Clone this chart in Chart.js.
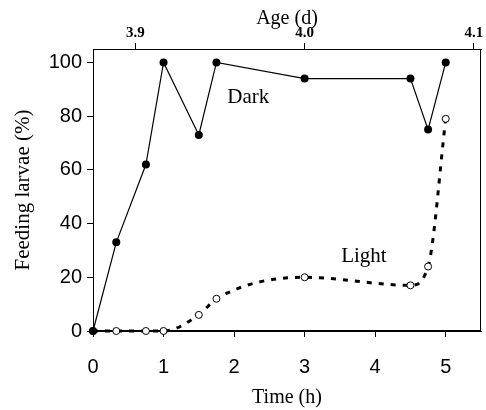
<!DOCTYPE html>
<html>
<head>
<meta charset="utf-8">
<script src="https://cdn.jsdelivr.net/npm/chart.js@4/dist/chart.umd.min.js"></script>
<style>
html,body{margin:0;padding:0;background:#fff}
</style>
</head>
<body>
<canvas id="c" width="486" height="410"></canvas>
<script>
// time after lights change (h) and % of larvae feeding
var timeH    = [0, 0.33, 0.75, 1, 1.5, 1.75, 3, 4.5, 4.75, 5];
var darkPct  = [0, 33, 62, 100, 73, 100, 94, 94, 75, 100];
var lightPct = [0, 0, 0, 0, 6, 12, 20, 17, 24, 79];

var xTicks   = [0, 1, 2, 3, 4, 5];
var yTicks   = [0, 20, 40, 60, 80, 100];
var ageTicks = [3.9, 4.0, 4.1];

var xMax = 5.5;
var ageAtZero = 3.875; // age in days at time 0
var yMax = 105;

var serif = "'Liberation Serif', 'Times New Roman', serif";
var sans  = "'Liberation Sans', Arial, sans-serif";

function pts(ys){
    return timeH.map(function(t,i){ return {x:t, y:ys[i]}; });
}
function noSidePad(s){ s.paddingLeft = 0; s.paddingRight = 0; }

// box around the plot + the two curve names
var framePlugin = {
    id:'frame',
    beforeDatasetsDraw: function(chart){
        var a = chart.chartArea, c = chart.ctx;
        c.save();
        c.strokeStyle = '#000';
        c.lineWidth = 1;
        c.strokeRect(Math.round(a.left)+0.5, Math.round(a.top)+0.5,
                     Math.round(a.right-a.left)-1, Math.round(a.bottom-a.top)-1);
        c.restore();
    },
    afterDatasetsDraw: function(chart){
        var c = chart.ctx, sx = chart.scales.x, sy = chart.scales.y;
        c.save();
        c.fillStyle = '#000';
        c.font = '21px ' + serif;
        c.textAlign = 'center';
        c.textBaseline = 'middle';
        c.fillText('Dark', sx.getPixelForValue(2.2), sy.getPixelForValue(87));
        c.fillText('Light', sx.getPixelForValue(3.84), sy.getPixelForValue(27.6));
        c.restore();
    }
};

var ctx = document.getElementById('c').getContext('2d');
var chart = new Chart(ctx, {
    type: 'line',
    data: {
        datasets: [{
            label: 'Dark',
            data: pts(darkPct),
            borderColor: '#000',
            borderWidth: 1.2,
            tension: 0,
            pointRadius: 4,
            pointBackgroundColor: '#000',
            pointBorderColor: '#000',
            pointBorderWidth: 0,
            clip: false
        },{
            label: 'Light',
            data: pts(lightPct),
            borderColor: '#000',
            borderWidth: 3,
            borderDash: [5, 7],
            borderCapStyle: 'butt',
            cubicInterpolationMode: 'monotone',
            pointRadius: 3.5,
            pointBackgroundColor: '#fff',
            pointBorderColor: '#000',
            pointBorderWidth: 1,
            clip: false
        }]
    },
    options: {
        responsive: false,
        animation: false,
        devicePixelRatio: 1,
        layout: { padding: { left: 0, right: 2, top: 2, bottom: 0 } },
        plugins: { legend: { display: false }, tooltip: { enabled: false } },
        scales: {
            x: {
                type: 'linear', position: 'bottom', min: 0, max: xMax,
                afterBuildTicks: function(s){ s.ticks = xTicks.map(function(v){ return {value:v}; }); },
                afterFit: function(s){ noSidePad(s); s.height = 79; },
                grid: { drawOnChartArea: false, drawTicks: true, tickLength: 6, color: '#000' },
                border: { display: true, color: '#000', width: 1 },
                ticks: { color: '#000', font: { family: sans, size: 20 }, padding: 18, maxRotation: 0 },
                title: { display: true, text: 'Time (h)', color: '#000',
                         font: { family: serif, size: 20, lineHeight: 1.2 }, padding: { top: 6, bottom: 0 } }
            },
            x2: {
                type: 'linear', position: 'top', min: ageAtZero, max: ageAtZero + xMax/24,
                afterBuildTicks: function(s){ s.ticks = ageTicks.map(function(v){ return {value:v}; }); },
                afterFit: function(s){ noSidePad(s); s.height = 47; },
                grid: { drawOnChartArea: false, drawTicks: true, tickLength: 6, color: '#000' },
                border: { display: true, color: '#000', width: 1 },
                ticks: { color: '#000', font: { family: serif, size: 15, weight: 'bold', lineHeight: 1 }, padding: 2, maxRotation: 0,
                         callback: function(v){ return v.toFixed(1); } },
                title: { display: true, text: 'Age (d)', color: '#000',
                         font: { family: serif, size: 20, lineHeight: 1 }, padding: { top: 7, bottom: 0 } }
            },
            y: {
                type: 'linear', position: 'left', min: 0, max: yMax,
                afterBuildTicks: function(s){ s.ticks = yTicks.map(function(v){ return {value:v}; }); },
                afterFit: function(s){ s.width = 93; },
                grid: { drawOnChartArea: false, drawTicks: true, tickLength: 6, color: '#000' },
                border: { display: true, color: '#000', width: 1 },
                ticks: { color: '#000', font: { family: sans, size: 20 }, padding: 5 },
                title: { display: true, text: 'Feeding larvae (%)', color: '#000',
                         font: { family: serif, size: 21, lineHeight: 1.2 }, padding: { top: 11, bottom: 12 } }
            }
        }
    },
    plugins: [framePlugin]
});
</script>
</body>
</html>
